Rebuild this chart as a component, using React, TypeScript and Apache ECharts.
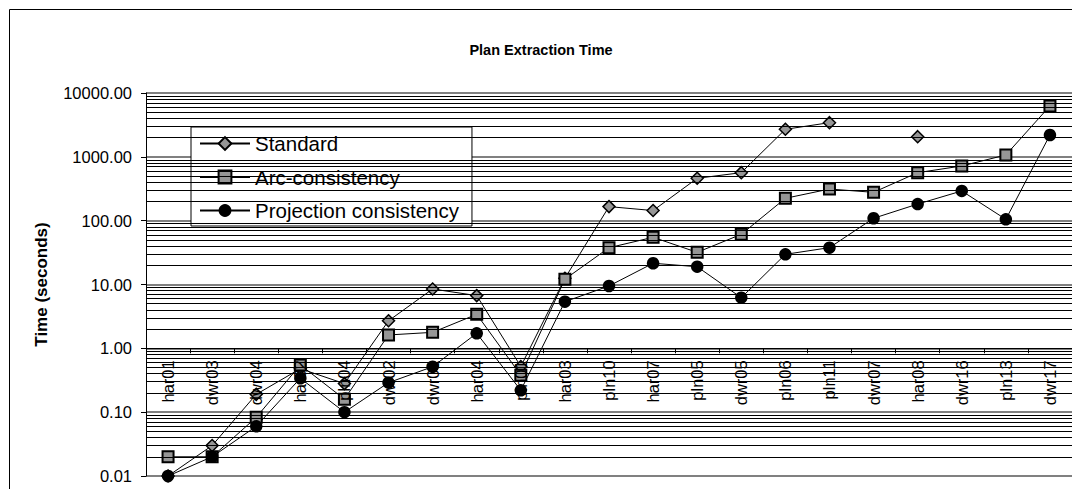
import React, { useEffect, useRef } from "react";
import * as echarts from "echarts";

const categories = [
  "har01", "dwr03", "dwr04", "har02", "pln04", "dwr02", "dwr01", "har04", "pln01", "har03",
  "pln10", "har07", "pln05", "dwr05", "pln06", "pln11", "dwr07", "har08", "dwr16", "pln13", "dwr17",
];
const standardValues = [
  0.01, 0.03, 0.19, 0.48, 0.28, 2.7, 8.5, 6.7, 0.52, 12.5,
  166, 144, 461, 565, 2700, 3430, null, 2070, null, null, null,
];
const arcValues = [
  0.02, 0.02, 0.083, 0.55, 0.16, 1.62, 1.78, 3.41, 0.38, 12.1,
  37.7, 54.9, 31.9, 61.1, 224, 313, 278, 565, 719, 1069, 6266,
];
const projValues = [
  0.01, 0.02, 0.06, 0.34, 0.1, 0.29, 0.515, 1.72, 0.22, 5.38,
  9.48, 21.5, 19.0, 6.21, 29.7, 37.8, 109, 182, 292, 105, 2198,
];
const seriesNames = ["Standard", "Arc-consistency", "Projection consistency"];
const yMin = 0.01;
const yMax = 10000;
const decades = [0.01, 0.1, 1, 10, 100, 1000];
const minorMultipliers = [2, 3, 4, 5, 6, 7, 8, 9];

const FONT = "'Liberation Sans', Arial, sans-serif";

export default function App() {
  const ref = useRef<HTMLDivElement>(null);
  useEffect(() => {
    if (!ref.current) return;
    const chart = echarts.init(ref.current, undefined, { renderer: "svg" });
    const minorLines: { yAxis: number }[] = [];
    decades.forEach((d) => minorMultipliers.forEach((m) => minorLines.push({ yAxis: d * m })));

    const gray = "#969696";
    const markerBase = {
      type: "line" as const,
      showAllSymbol: true,
      connectNulls: false,
      lineStyle: { color: "#000", width: 1 },
      z: 3,
    };

    chart.setOption({
      animation: false,
      backgroundColor: "#fff",
      grid: { left: 146, top: 93, right: -5.4, bottom: 13, containLabel: false },
      xAxis: {
        type: "category",
        data: categories,
        position: "bottom",
        offset: -127.7,
        boundaryGap: true,
        axisLine: { show: true, lineStyle: { color: "#000", width: 1 } },
        axisTick: { show: true, inside: false, length: 5, lineStyle: { color: "#000" } },
        axisLabel: {
          interval: 0,
          rotate: 90,
          margin: 12,
          color: "#000",
          fontFamily: FONT,
          fontSize: 16.5,
        },
        splitLine: { show: false },
        z: 4,
      },
      yAxis: {
        type: "log",
        logBase: 10,
        min: yMin,
        max: yMax,
        splitNumber: 6,
        axisLine: { show: true, lineStyle: { color: "#000", width: 1 } },
        axisTick: { show: true, inside: false, length: 5, lineStyle: { color: "#000" } },
        axisLabel: {
          margin: 14,
          color: "#000",
          fontFamily: FONT,
          fontSize: 16.5,
          formatter: (v: number) => Number(v).toFixed(2),
        },
        splitLine: { show: true, lineStyle: { color: "#808080", width: 2 } },
      },
      legend: {
        data: seriesNames,
        orient: "vertical",
        left: 191,
        top: 127,
        backgroundColor: "#fff",
        borderColor: "#000",
        borderWidth: 1,
        borderRadius: 0,
        padding: [6, 13, 5, 8],
        itemGap: 12.5,
        itemWidth: 50,
        itemHeight: 16,
        selectedMode: false,
        textStyle: { color: "#000", fontFamily: FONT, fontSize: 20.5, lineHeight: 20 },
      },
      graphic: [
        {
          type: "rect",
          shape: { x: 9.5, y: 9.5, width: 2000, height: 2000 },
          style: { fill: "none", stroke: "#000", lineWidth: 1 },
          silent: true,
          z: 10,
        },
        {
          type: "text",
          x: 541,
          y: 50,
          style: {
            text: "Plan Extraction Time",
            font: `bold 14.5px ${FONT}`,
            fill: "#000",
            textAlign: "center",
            textVerticalAlign: "middle",
          },
          silent: true,
        },
        {
          type: "text",
          x: 41.5,
          y: 284.5,
          rotation: Math.PI / 2,
          style: {
            text: "Time (seconds)",
            font: `bold 17px ${FONT}`,
            fill: "#000",
            textAlign: "center",
            textVerticalAlign: "middle",
          },
          silent: true,
        },
      ],
      series: [
        {
          name: "gridlines",
          type: "line",
          data: categories.map(() => null),
          showSymbol: false,
          silent: true,
          z: 1,
          markLine: {
            silent: true,
            symbol: ["none", "none"],
            label: { show: false },
            lineStyle: { color: "#000", width: 1, type: "solid" },
            data: minorLines,
            animation: false,
          },
        },
        {
          ...markerBase,
          name: seriesNames[0],
          data: standardValues,
          symbol: "diamond",
          symbolSize: 12,
          itemStyle: { color: gray, borderColor: "#000", borderWidth: 1.5 },
        },
        {
          ...markerBase,
          name: seriesNames[1],
          data: arcValues,
          symbol: "rect",
          symbolSize: 11,
          itemStyle: { color: gray, borderColor: "#000", borderWidth: 2 },
        },
        {
          ...markerBase,
          name: seriesNames[2],
          data: projValues,
          symbol: "circle",
          symbolSize: 12.5,
          itemStyle: { color: "#000", borderColor: "#000", borderWidth: 0 },
        },
      ],
    });
    return () => chart.dispose();
  }, []);
  return (
    <div
      ref={ref}
      style={{ position: "fixed", left: 0, top: 0, width: 1072, height: 489, background: "#fff" }}
    />
  );
}
